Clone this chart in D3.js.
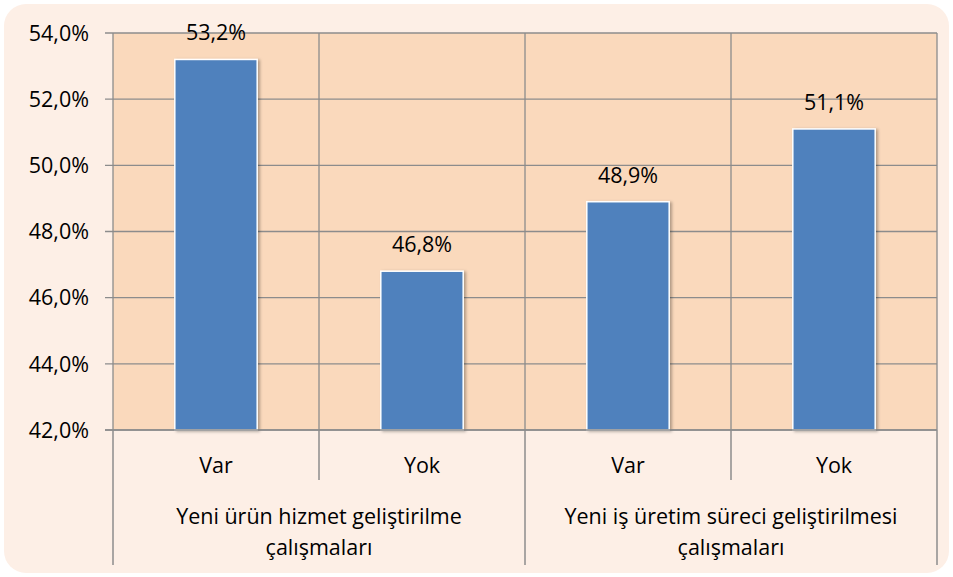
<!DOCTYPE html>
<html><head><meta charset="utf-8">
<script src="https://cdn.jsdelivr.net/npm/d3@7"></script>
<style>body{margin:0;background:#fff}svg{display:block}text{font-family:"Open Sans","Noto Sans",sans-serif;fill:#000}</style>
</head><body><svg id="c" width="953" height="577"></svg>
<script>
const groups = ["Yeni ürün hizmet geliştirilme|çalışmaları", "Yeni iş üretim süreci geliştirilmesi|çalışmaları"];
const categories = ["Var", "Yok", "Var", "Yok"];
const groupOf = [0, 0, 1, 1];
const values = [53.2, 46.8, 48.9, 51.1];
const yTicks = [42, 44, 46, 48, 50, 52, 54];

const svg = d3.select("#c");
const L = 113, R = 937, T = 33, B = 430;
const FS = 21.5;
const fmt = v => d3.format(".1f")(v).replace(".", ",");

svg.append("rect").attr("x", 4).attr("y", 4).attr("width", 945).attr("height", 569)
  .attr("rx", 22).attr("fill", "#FDEFE6");

const x = d3.scaleBand().domain(d3.range(categories.length)).range([L, R]).paddingInner(0).paddingOuter(0);
const y = d3.scaleLinear().domain([42, 54]).range([B, T]);

svg.append("rect").attr("x", L).attr("y", T).attr("width", R - L).attr("height", B - T).attr("fill", "#FAD9BC");

svg.append("g").selectAll("line").data(yTicks).join("line")
  .attr("x1", L - 8).attr("x2", R).attr("y1", d => y(d)).attr("y2", d => y(d))
  .attr("stroke", "#8C8C8C").attr("stroke-width", 1.3);
svg.append("g").selectAll("line").data(d3.range(categories.length + 1)).join("line")
  .attr("x1", i => L + i * x.bandwidth()).attr("x2", i => L + i * x.bandwidth())
  .attr("y1", T).attr("y2", B).attr("stroke", "#8C8C8C").attr("stroke-width", 1.3);

svg.append("g").selectAll("text").data(yTicks).join("text")
  .attr("x", 89).attr("y", d => y(d)).attr("dy", "0.36em").attr("text-anchor", "end")
  .attr("font-size", FS).text(d => fmt(d) + "%");

const defs = svg.append("defs");
const f = defs.append("filter").attr("id", "sh").attr("x", "-20%").attr("y", "-20%").attr("width", "140%").attr("height", "140%");
f.append("feDropShadow").attr("dx", 2).attr("dy", 1).attr("stdDeviation", 1.5).attr("flood-color", "#000").attr("flood-opacity", 0.3);

const bw = x.bandwidth() * 0.4;
svg.append("g").selectAll("rect").data(values).join("rect")
  .attr("x", (d, i) => x(i) + (x.bandwidth() - bw) / 2).attr("width", bw)
  .attr("y", d => y(d)).attr("height", d => B - y(d))
  .attr("fill", "#4F81BD").attr("stroke", "#FFFFFF").attr("stroke-width", 1.5)
  .attr("filter", "url(#sh)");

svg.append("g").selectAll("text").data(values).join("text")
  .attr("x", (d, i) => x(i) + x.bandwidth() / 2).attr("y", d => y(d) - 19)
  .attr("text-anchor", "middle").attr("font-size", FS).text(d => fmt(d) + "%");

svg.append("line").attr("x1", L - 8).attr("x2", R).attr("y1", B).attr("y2", B).attr("stroke", "#8C8C8C").attr("stroke-width", 1.5);
svg.append("g").selectAll("line").data(d3.range(categories.length + 1)).join("line")
  .attr("x1", i => L + i * x.bandwidth()).attr("x2", i => L + i * x.bandwidth())
  .attr("y1", B).attr("y2", i => i % 2 === 0 ? 565 : 480)
  .attr("stroke", "#8C8C8C").attr("stroke-width", 1.5);

svg.append("g").selectAll("text").data(categories).join("text")
  .attr("x", (d, i) => x(i) + x.bandwidth() / 2).attr("y", 465).attr("dy", "0.36em")
  .attr("text-anchor", "middle").attr("font-size", FS).text(d => d);

groups.forEach((g, gi) => {
  const idx = groupOf.map((v, i) => v === gi ? i : -1).filter(i => i >= 0);
  const cx = (x(idx[0]) + x(idx[idx.length - 1]) + x.bandwidth()) / 2;
  g.split("|").forEach((line, li) => {
    svg.append("text").attr("x", cx).attr("y", 516 + li * 31).attr("dy", "0.36em")
      .attr("text-anchor", "middle").attr("font-size", FS).text(line);
  });
});
</script></body></html>
